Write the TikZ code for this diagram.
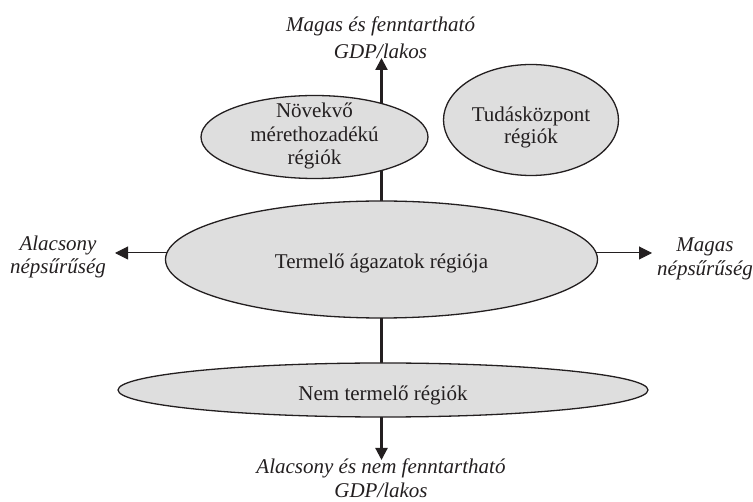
\documentclass[tikz,border=0pt]{standalone}
\usepackage{fontspec}
\setmainfont{Liberation Serif}
\usetikzlibrary{arrows.meta,shapes.geometric,backgrounds}
\definecolor{regfill}{HTML}{DEDEDE}
\definecolor{ink}{HTML}{231F20}
% text lines: last baseline lies #1 below the node centre
\newcommand{\txtlines}[2]{\smash{\raisebox{#1}{\begin{tabular}[b]{@{}c@{}}#2\end{tabular}}}}
\begin{document}
\begin{tikzpicture}[x=1pt,y=-1pt,
  region/.style={ellipse,draw=ink,fill=regfill,line width=1.3pt,inner sep=0pt,
    text=ink,font=\fontsize{21}{23.5}\selectfont},
  axisline/.style={draw=ink,line width=2.2pt},
  axisarrow/.style={axisline,-{Triangle[length=12pt,width=12pt]}},
  densarrow/.style={draw=ink,line width=1pt,-{Triangle[length=13pt,width=13pt]}},
  caption/.style={inner sep=0pt,text=ink,font=\itshape\fontsize{21}{22}\selectfont}]
\useasboundingbox (0,0) rectangle (753,502);

% regions
\node[region,minimum width=227pt,minimum height=83pt] (grow) at (314.5,137)
  {\txtlines{-28pt}{Növekvő\\mérethozadékú\\régiók}};
\node[region,minimum width=175pt,minimum height=111pt,font=\fontsize{21}{22}\selectfont] (know) at (531,120)
  {\txtlines{-24pt}{Tudásközpont\\régiók}};
\node[region,minimum width=432pt,minimum height=117pt] (prod) at (381.5,259.5)
  {\txtlines{-9.5pt}{Termelő ágazatok régiója}};
\node[region,minimum width=530pt,minimum height=54pt] (nonp) at (383,390)
  {\txtlines{-11pt}{Nem termelő régiók}};

% axis end points
\coordinate (ttip) at (381.5,58);
\coordinate (btip) at (381.5,460);
\coordinate (ltip) at (115,253);
\coordinate (rtip) at (652,253);

% captions (node position = last baseline)
\node[caption,font=\itshape\fontsize{21}{27}\selectfont] (gdphigh) at (380.5,59)
  {\txtlines{0pt}{Magas és fenntartható\\GDP/lakos}};
\node[caption,font=\itshape\fontsize{21}{23.5}\selectfont] (gdplow) at (381,497.5)
  {\txtlines{0pt}{Alacsony és nem fenntartható\\GDP/lakos}};
\node[caption,font=\itshape\fontsize{21}{23}\selectfont] (denslow) at (58,274)
  {\txtlines{0pt}{Alacsony\\népsűrűség}};
\node[caption,font=\itshape\fontsize{21}{24}\selectfont] (denshigh) at (705,276)
  {\txtlines{0pt}{Magas\\népsűrűség}};

% connectors behind the regions
\begin{pgfonlayer}{background}
  \draw[axisarrow] (prod.center) -- (ttip);
  \draw[axisarrow] (prod.center) -- (btip);
  \draw[densarrow] (prod.center |- ltip) -- (ltip);
  \draw[densarrow] (prod.center |- rtip) -- (rtip);
\end{pgfonlayer}
\end{tikzpicture}
\end{document}
